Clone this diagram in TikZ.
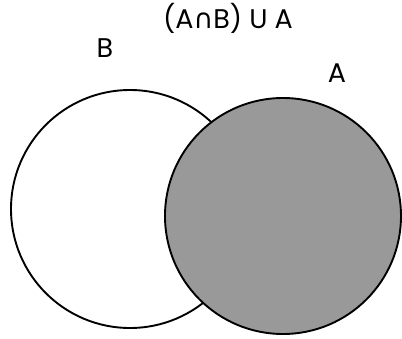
\documentclass[tikz,border=0pt]{standalone}
\usepackage{fontspec}
\setmainfont{Poppins}
\newfontfamily\symfont{DejaVu Sans}
\usetikzlibrary{positioning}

\begin{document}
\begin{tikzpicture}[x=1pt, y=-1pt,
    set circle/.style={draw, circle, line width=1.9pt, inner sep=0pt},
    set label/.style={font=\fontsize{27}{29}\selectfont, inner sep=0pt}]
    \useasboundingbox (0,0) rectangle (402,338);
    % Set B (white) and set A (shaded) on top of it
    \node[set circle, fill=white, minimum size=238pt] (setB) at (130,209) {};
    \node[set circle, fill={rgb,255:red,153;green,153;blue,153}, minimum size=236pt] (setA) at (283,216) {};

    % Labels
    \node[set label] (labB) at (105,48) {B};
    \node[set label] (labA) at (337,73) {A};
    \node[set label] (title) at (228,18) {(A{\symfont ∩}B) U A};
\end{tikzpicture}
\end{document}
